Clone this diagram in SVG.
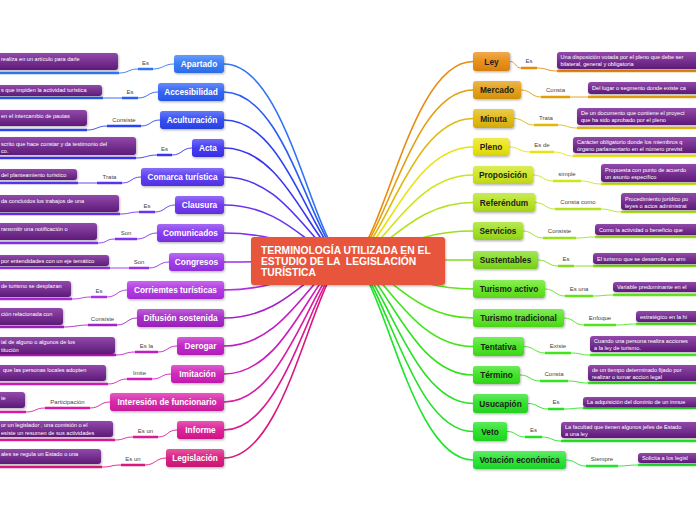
<svg xmlns="http://www.w3.org/2000/svg" width="696" height="520" viewBox="0 0 696 520">
<defs>
<linearGradient id="gloss" x1="0" y1="0" x2="0" y2="1"><stop offset="0" stop-color="#fff" stop-opacity="0.28"/><stop offset="0.5" stop-color="#fff" stop-opacity="0.05"/><stop offset="1" stop-color="#000" stop-opacity="0.08"/></linearGradient>
<linearGradient id="boxg" x1="0" y1="0" x2="0" y2="1"><stop offset="0" stop-color="#9149aa"/><stop offset="1" stop-color="#5e1a78"/></linearGradient>
<filter id="sh" x="-10%" y="-30%" width="130%" height="180%"><feDropShadow dx="0.8" dy="1.2" stdDeviation="0.9" flood-color="#000" flood-opacity="0.3"/></filter>
</defs>
<style>
.n{filter:url(#sh)}
.gl{fill:url(#gloss)}
.nt{font-family:"Liberation Sans",Arial,sans-serif;font-weight:bold;font-size:8.3px;text-anchor:middle;fill:#fff}
.nr{fill:#1e1e1e}
.bx{fill:url(#boxg);filter:url(#sh)}
.bt{font-family:"Liberation Sans",Arial,sans-serif;font-size:5.6px;fill:#fff}
.lb{font-family:"Liberation Sans",Arial,sans-serif;font-size:6px;fill:#444;text-anchor:middle}
.c{fill:none;stroke-width:1.6}
.t{fill:none;stroke-width:0.9}
.u{fill:none;stroke-width:2.4}
</style>
<rect width="696" height="520" fill="#fff"/>
<g id="connectors">
<g class="c">
<path stroke="#2f74f6" d="M224,64 C290,64 315,260 348,260"/>
<path stroke="#2a5cf5" d="M224,92 C290,92 315,260 348,260"/>
<path stroke="#2b44f2" d="M224,120 C290,120 315,260 348,260"/>
<path stroke="#3a33f2" d="M224,148 C290,148 315,260 348,260"/>
<path stroke="#5634f2" d="M224,177 C290,177 315,260 348,260"/>
<path stroke="#6a33f0" d="M224,205 C290,205 315,260 348,260"/>
<path stroke="#8132ee" d="M224,233 C290,233 315,260 348,260"/>
<path stroke="#9a30ea" d="M224,262 C290,262 315,260 348,260"/>
<path stroke="#ae2fe4" d="M224,290 C290,290 315,260 348,260"/>
<path stroke="#a322c6" d="M224,318 C290,318 315,260 348,260"/>
<path stroke="#c11cc6" d="M224,346 C290,346 315,260 348,260"/>
<path stroke="#cf1bb9" d="M224,374 C290,374 315,260 348,260"/>
<path stroke="#d81aa6" d="M224,402 C290,402 315,260 348,260"/>
<path stroke="#dc1992" d="M224,430 C290,430 315,260 348,260"/>
<path stroke="#d8187c" d="M224,458 C290,458 315,260 348,260"/>
<path stroke="#e88a0b" d="M473,61.5 C408,61.5 382,260 348,260"/>
<path stroke="#e39c0a" d="M473,90 C408,90 382,260 348,260"/>
<path stroke="#e0b80c" d="M473,118.5 C408,118.5 382,260 348,260"/>
<path stroke="#e9e30d" d="M473,147 C408,147 382,260 348,260"/>
<path stroke="#cde51a" d="M473,175 C408,175 382,260 348,260"/>
<path stroke="#b4e21c" d="M473,202.5 C408,202.5 382,260 348,260"/>
<path stroke="#9ddf1d" d="M473,231 C408,231 382,260 348,260"/>
<path stroke="#80dc1a" d="M473,260 C408,260 382,260 348,260"/>
<path stroke="#62e51a" d="M473,289 C408,289 382,260 348,260"/>
<path stroke="#52e51b" d="M473,318 C408,318 382,260 348,260"/>
<path stroke="#42e51c" d="M473,346.5 C408,346.5 382,260 348,260"/>
<path stroke="#34e21f" d="M473,375 C408,375 382,260 348,260"/>
<path stroke="#28e024" d="M473,403.5 C408,403.5 382,260 348,260"/>
<path stroke="#22e124" d="M473,431.5 C408,431.5 382,260 348,260"/>
<path stroke="#22e32e" d="M473,460 C408,460 382,260 348,260"/>
</g>
<g class="t">
<path stroke="#2f74f6" d="M174,64 C164,64 163,69 153,69 M138,69 C128,69 129,73 119,73"/>
<path stroke="#2a5cf5" d="M158,92 C148,92 148,98 138,98 M122,98 L103,98"/>
<path stroke="#2b44f2" d="M160,120 C150,120 151,126 141,126 M107,126 C97,126 97,130 87,130"/>
<path stroke="#3a33f2" d="M192,148 C182,148 182,155 172,155 M157,155 C147,155 146,158 136,158"/>
<path stroke="#5634f2" d="M141,177 C131,177 132,183 122,183 M97,183 L78,183"/>
<path stroke="#6a33f0" d="M175,205 C165,205 165,212 155,212 M139,212 C129,212 130,214 120,214"/>
<path stroke="#8132ee" d="M157,233 C147,233 147,239 137,239 M115,239 C105,239 108,243 98,243"/>
<path stroke="#9a30ea" d="M169,262 C159,262 159,268 149,268 M129,268 L110,268"/>
<path stroke="#ae2fe4" d="M127,290 C117,290 117,297 107,297 M91,297 C81,297 82,299 72,299"/>
<path stroke="#a322c6" d="M137,318 C127,318 127,325 117,325 M88,325 C78,325 74,327 64,327"/>
<path stroke="#c11cc6" d="M177,346 C167,346 168,352 158,352 M135,352 C125,352 126,355 116,355"/>
<path stroke="#cf1bb9" d="M171,374 C161,374 162,379 152,379 M127,379 C117,379 118,384 108,384"/>
<path stroke="#d81aa6" d="M110,402 C100,402 100,408 90,408 M45,408 C35,408 36,412 26,412"/>
<path stroke="#dc1992" d="M177,430 C167,430 168,437 158,437 M133,437 C123,437 125,440 115,440"/>
<path stroke="#d8187c" d="M166,458 C156,458 155,465 145,465 M121,465 C111,465 112,467 102,467"/>
<path stroke="#e88a0b" d="M510,61.5 C516,61.5 515,68 521,68 M537,68 C547,68 547,71 557,71"/>
<path stroke="#e39c0a" d="M521,90 C531,90 531,97 541,97 M570,97 L588,97"/>
<path stroke="#e0b80c" d="M514,118.5 C524,118.5 524,125 534,125 M558,125 C568,125 567,128 577,128"/>
<path stroke="#e9e30d" d="M509,147 C519,147 520,152 530,152 M554,152 C564,152 563,156 573,156"/>
<path stroke="#cde51a" d="M533,175 C543,175 543,181 553,181 M581,181 C591,181 591,184 601,184"/>
<path stroke="#b4e21c" d="M535,202.5 C545,202.5 545,209 555,209 M601,209 C611,209 611,212 621,212"/>
<path stroke="#9ddf1d" d="M523,231 C533,231 533,238 543,238 M576,238 C586,238 585,237 595,237"/>
<path stroke="#80dc1a" d="M538,260 C548,260 548,266 558,266 M574,266 L593,266"/>
<path stroke="#62e51a" d="M545,289 C555,289 555,296 565,296 M593,296 C603,296 603,295 613,295"/>
<path stroke="#52e51b" d="M564,318 C574,318 574,325 584,325 M616,325 C626,325 626,324 636,324"/>
<path stroke="#42e51c" d="M524,346.5 C534,346.5 535,353 545,353 M571,353 C581,353 580,355 590,355"/>
<path stroke="#34e21f" d="M520,375 C530,375 530,381 540,381 M568,381 C578,381 578,383 588,383"/>
<path stroke="#28e024" d="M528,403.5 C538,403.5 538,409 548,409 M564,409 C574,409 573,408 583,408"/>
<path stroke="#22e124" d="M507,431.5 C517,431.5 515,437 525,437 M542,437 C552,437 551,441 561,441"/>
<path stroke="#22e32e" d="M566,460 C576,460 576,466 586,466 M618,466 C628,466 628,465 638,465"/>
</g>
<g class="u">
<path stroke="#2f74f6" d="M138,69 H153 M0,73 H119"/>
<path stroke="#2a5cf5" d="M122,98 H138 M0,98 H103"/>
<path stroke="#2b44f2" d="M107,126 H141 M0,130 H87"/>
<path stroke="#3a33f2" d="M157,155 H172 M0,158 H136"/>
<path stroke="#5634f2" d="M97,183 H122 M0,183 H78"/>
<path stroke="#6a33f0" d="M139,212 H155 M0,214 H120"/>
<path stroke="#8132ee" d="M115,239 H137 M0,243 H98"/>
<path stroke="#9a30ea" d="M129,268 H149 M0,268 H110"/>
<path stroke="#ae2fe4" d="M91,297 H107 M0,299 H72"/>
<path stroke="#a322c6" d="M88,325 H117 M0,327 H64"/>
<path stroke="#c11cc6" d="M135,352 H158 M0,355 H116"/>
<path stroke="#cf1bb9" d="M127,379 H152 M0,384 H108"/>
<path stroke="#d81aa6" d="M45,408 H90 M0,412 H26"/>
<path stroke="#dc1992" d="M133,437 H158 M0,440 H115"/>
<path stroke="#d8187c" d="M121,465 H145 M0,467 H102"/>
<path stroke="#e88a0b" d="M521,68 H537 M557,71 H696"/>
<path stroke="#e39c0a" d="M541,97 H570 M588,97 H696"/>
<path stroke="#e0b80c" d="M534,125 H558 M577,128 H696"/>
<path stroke="#e9e30d" d="M530,152 H554 M573,156 H696"/>
<path stroke="#cde51a" d="M553,181 H581 M601,184 H696"/>
<path stroke="#b4e21c" d="M555,209 H601 M621,212 H696"/>
<path stroke="#9ddf1d" d="M543,238 H576 M595,237 H696"/>
<path stroke="#80dc1a" d="M558,266 H574 M593,266 H696"/>
<path stroke="#62e51a" d="M565,296 H593 M613,295 H696"/>
<path stroke="#52e51b" d="M584,325 H616 M636,324 H696"/>
<path stroke="#42e51c" d="M545,353 H571 M590,355 H696"/>
<path stroke="#34e21f" d="M540,381 H568 M588,383 H696"/>
<path stroke="#28e024" d="M548,409 H564 M583,408 H696"/>
<path stroke="#22e124" d="M525,437 H542 M561,441 H696"/>
<path stroke="#22e32e" d="M586,466 H618 M638,465 H696"/>
</g>
<g id="labels">
<text class="lb" x="145.5" y="65">Es</text>
<text class="lb" x="130" y="94">Es</text>
<text class="lb" x="124" y="122">Consiste</text>
<text class="lb" x="164.5" y="151">Es</text>
<text class="lb" x="109.5" y="179">Trata</text>
<text class="lb" x="147" y="208">Es</text>
<text class="lb" x="126" y="235">Son</text>
<text class="lb" x="139" y="264">Son</text>
<text class="lb" x="99" y="293">Es</text>
<text class="lb" x="102.5" y="321">Consiste</text>
<text class="lb" x="146.5" y="348">Es la</text>
<text class="lb" x="139.5" y="375">Imite</text>
<text class="lb" x="67.5" y="404">Participación</text>
<text class="lb" x="145.5" y="433">Es un</text>
<text class="lb" x="133" y="461">Es un</text>
<text class="lb" x="529" y="63">Es</text>
<text class="lb" x="555.5" y="92">Consta</text>
<text class="lb" x="546" y="120">Trata</text>
<text class="lb" x="542" y="147">Es de</text>
<text class="lb" x="567" y="176">simple</text>
<text class="lb" x="578" y="204">Consta como</text>
<text class="lb" x="559.5" y="233">Consiste</text>
<text class="lb" x="566" y="261">Es</text>
<text class="lb" x="579" y="291">Es una</text>
<text class="lb" x="600" y="320">Enfoque</text>
<text class="lb" x="558" y="348">Existe</text>
<text class="lb" x="554" y="376">Consta</text>
<text class="lb" x="556" y="404">Es</text>
<text class="lb" x="533.5" y="432">Es</text>
<text class="lb" x="602" y="461">Siempre</text>
</g>
</g>
<g id="center">
<rect x="251" y="237" width="194" height="48" rx="3" fill="#e8553d" class="n"/>
<g font-family="Liberation Sans, Arial, sans-serif" font-weight="bold" font-size="10.3" fill="#fff">
<text x="261" y="254">TERMINOLOGÍA UTILIZADA EN EL</text>
<text x="261" y="265" style="white-space:pre">ESTUDIO DE LA  LEGISLACIÓN</text>
<text x="261" y="276">TURÍSTICA</text>
</g>
</g>
<g id="n-apartado"><rect class="n" x="174" y="55" width="50" height="18" rx="3" fill="#2f74f6"/><rect class="gl" x="174" y="55" width="50" height="18" rx="3"/><text class="nt" x="199" y="67">Apartado</text></g>
<g id="n-accesibilidad"><rect class="n" x="158" y="83" width="66" height="18" rx="3" fill="#2a5cf5"/><rect class="gl" x="158" y="83" width="66" height="18" rx="3"/><text class="nt" x="191" y="95">Accesibilidad</text></g>
<g id="n-aculturacion"><rect class="n" x="160" y="111" width="64" height="18" rx="3" fill="#2b44f2"/><rect class="gl" x="160" y="111" width="64" height="18" rx="3"/><text class="nt" x="192" y="123">Aculturación</text></g>
<g id="n-acta"><rect class="n" x="192" y="139" width="32" height="18" rx="3" fill="#3a33f2"/><rect class="gl" x="192" y="139" width="32" height="18" rx="3"/><text class="nt" x="208" y="151">Acta</text></g>
<g id="n-comarca"><rect class="n" x="141" y="168" width="83" height="18" rx="3" fill="#5634f2"/><rect class="gl" x="141" y="168" width="83" height="18" rx="3"/><text class="nt" x="182.5" y="180">Comarca turística</text></g>
<g id="n-clausura"><rect class="n" x="175" y="196" width="49" height="18" rx="3" fill="#6a33f0"/><rect class="gl" x="175" y="196" width="49" height="18" rx="3"/><text class="nt" x="199.5" y="208">Clausura</text></g>
<g id="n-comunicados"><rect class="n" x="157" y="224" width="67" height="18" rx="3" fill="#8132ee"/><rect class="gl" x="157" y="224" width="67" height="18" rx="3"/><text class="nt" x="190.5" y="236">Comunicados</text></g>
<g id="n-congresos"><rect class="n" x="169" y="253" width="55" height="18" rx="3" fill="#9a30ea"/><rect class="gl" x="169" y="253" width="55" height="18" rx="3"/><text class="nt" x="196.5" y="265">Congresos</text></g>
<g id="n-corrientes"><rect class="n" x="127" y="281" width="97" height="18" rx="3" fill="#ae2fe4"/><rect class="gl" x="127" y="281" width="97" height="18" rx="3"/><text class="nt" x="175.5" y="293">Corriemtes turísticas</text></g>
<g id="n-difusion"><rect class="n" x="137" y="309" width="87" height="18" rx="3" fill="#a322c6"/><rect class="gl" x="137" y="309" width="87" height="18" rx="3"/><text class="nt" x="180.5" y="321">Difusión sostenida</text></g>
<g id="n-derogar"><rect class="n" x="177" y="337" width="47" height="18" rx="3" fill="#c11cc6"/><rect class="gl" x="177" y="337" width="47" height="18" rx="3"/><text class="nt" x="200.5" y="349">Derogar</text></g>
<g id="n-imitacion"><rect class="n" x="171" y="365" width="53" height="18" rx="3" fill="#cf1bb9"/><rect class="gl" x="171" y="365" width="53" height="18" rx="3"/><text class="nt" x="197.5" y="377">Imitación</text></g>
<g id="n-interesion"><rect class="n" x="110" y="393" width="114" height="18" rx="3" fill="#d81aa6"/><rect class="gl" x="110" y="393" width="114" height="18" rx="3"/><text class="nt" x="167" y="405">Interesión de funcionario</text></g>
<g id="n-informe"><rect class="n" x="177" y="421" width="47" height="18" rx="3" fill="#dc1992"/><rect class="gl" x="177" y="421" width="47" height="18" rx="3"/><text class="nt" x="200.5" y="433">Informe</text></g>
<g id="n-legislacion"><rect class="n" x="166" y="449" width="58" height="18" rx="3" fill="#d8187c"/><rect class="gl" x="166" y="449" width="58" height="18" rx="3"/><text class="nt" x="195" y="461">Legislación</text></g>
<g id="n-ley"><rect class="n" x="473" y="52" width="37" height="19" rx="3" fill="#e88a0b"/><rect class="gl" x="473" y="52" width="37" height="19" rx="3"/><text class="nt nr" x="491.5" y="64.5">Ley</text></g>
<g id="n-mercado"><rect class="n" x="473" y="81" width="48" height="18" rx="3" fill="#e39c0a"/><rect class="gl" x="473" y="81" width="48" height="18" rx="3"/><text class="nt nr" x="497" y="93">Mercado</text></g>
<g id="n-minuta"><rect class="n" x="473" y="109" width="41" height="19" rx="3" fill="#e0b80c"/><rect class="gl" x="473" y="109" width="41" height="19" rx="3"/><text class="nt nr" x="493.5" y="121.5">Minuta</text></g>
<g id="n-pleno"><rect class="n" x="473" y="138" width="36" height="18" rx="3" fill="#e9e30d"/><rect class="gl" x="473" y="138" width="36" height="18" rx="3"/><text class="nt nr" x="491" y="150">Pleno</text></g>
<g id="n-proposicion"><rect class="n" x="473" y="166" width="60" height="18" rx="3" fill="#cde51a"/><rect class="gl" x="473" y="166" width="60" height="18" rx="3"/><text class="nt nr" x="503" y="178">Proposición</text></g>
<g id="n-referendum"><rect class="n" x="473" y="193" width="62" height="19" rx="3" fill="#b4e21c"/><rect class="gl" x="473" y="193" width="62" height="19" rx="3"/><text class="nt nr" x="504" y="205.5">Referéndum</text></g>
<g id="n-servicios"><rect class="n" x="473" y="222" width="50" height="18" rx="3" fill="#9ddf1d"/><rect class="gl" x="473" y="222" width="50" height="18" rx="3"/><text class="nt nr" x="498" y="234">Servicios</text></g>
<g id="n-sustentables"><rect class="n" x="473" y="251" width="65" height="18" rx="3" fill="#80dc1a"/><rect class="gl" x="473" y="251" width="65" height="18" rx="3"/><text class="nt nr" x="505.5" y="263">Sustentables</text></g>
<g id="n-turismo-activo"><rect class="n" x="473" y="280" width="72" height="18" rx="3" fill="#62e51a"/><rect class="gl" x="473" y="280" width="72" height="18" rx="3"/><text class="nt nr" x="509" y="292">Turismo activo</text></g>
<g id="n-turismo-tradicional"><rect class="n" x="473" y="309" width="91" height="18" rx="3" fill="#52e51b"/><rect class="gl" x="473" y="309" width="91" height="18" rx="3"/><text class="nt nr" x="518.5" y="321">Turismo tradicional</text></g>
<g id="n-tentativa"><rect class="n" x="473" y="337" width="51" height="19" rx="3" fill="#42e51c"/><rect class="gl" x="473" y="337" width="51" height="19" rx="3"/><text class="nt nr" x="498.5" y="349.5">Tentativa</text></g>
<g id="n-termino"><rect class="n" x="473" y="366" width="47" height="18" rx="3" fill="#34e21f"/><rect class="gl" x="473" y="366" width="47" height="18" rx="3"/><text class="nt nr" x="496.5" y="378">Término</text></g>
<g id="n-usucapion"><rect class="n" x="473" y="394" width="55" height="19" rx="3" fill="#28e024"/><rect class="gl" x="473" y="394" width="55" height="19" rx="3"/><text class="nt nr" x="500.5" y="406.5">Usucapión</text></g>
<g id="n-veto"><rect class="n" x="473" y="422" width="34" height="19" rx="3" fill="#22e124"/><rect class="gl" x="473" y="422" width="34" height="19" rx="3"/><text class="nt nr" x="490" y="434.5">Veto</text></g>
<g id="n-votacion"><rect class="n" x="473" y="451" width="93" height="18" rx="3" fill="#22e32e"/><rect class="gl" x="473" y="451" width="93" height="18" rx="3"/><text class="nt nr" x="519.5" y="463">Votación económica</text></g>
<g id="t-apartado"><rect class="bx" x="-6" y="53" width="124" height="17" rx="3"/><text class="bt" x="1" y="61">realiza en un artículo para darle</text></g>
<g id="t-accesibilidad"><rect class="bx" x="-6" y="85" width="108" height="11" rx="3"/><text class="bt" x="1" y="92">s que impiden la actividad turística</text></g>
<g id="t-aculturacion"><rect class="bx" x="-6" y="110" width="93" height="16" rx="3"/><text class="bt" x="1" y="118">en el intercambio de pautas</text></g>
<g id="t-acta"><rect class="bx" x="-6" y="137" width="142" height="18" rx="3"/><text class="bt" x="1" y="146">scrito que hace constar y da testimonio del</text><text class="bt" x="1" y="153">co.</text></g>
<g id="t-comarca"><rect class="bx" x="-6" y="169" width="83" height="11" rx="3"/><text class="bt" x="1" y="177">del planteamiento turístico</text></g>
<g id="t-clausura"><rect class="bx" x="-6" y="195" width="125" height="17" rx="3"/><text class="bt" x="1" y="203">da concluidos los trabajos de una</text></g>
<g id="t-comunicados"><rect class="bx" x="-6" y="223" width="103" height="17" rx="3"/><text class="bt" x="1" y="231">ransmitir una notificación o</text></g>
<g id="t-congresos"><rect class="bx" x="-6" y="255" width="115" height="11" rx="3"/><text class="bt" x="1" y="263">por entendidades con un eje temático</text></g>
<g id="t-corrientes"><rect class="bx" x="-6" y="281" width="77" height="16" rx="3"/><text class="bt" x="1" y="288">de turismo se desplazan</text></g>
<g id="t-difusion"><rect class="bx" x="-6" y="308" width="69" height="17" rx="3"/><text class="bt" x="1" y="316">ción relacionada con</text></g>
<g id="t-derogar"><rect class="bx" x="-6" y="337" width="121" height="17" rx="3"/><text class="bt" x="1" y="344">ial de alguno o algunos de los</text><text class="bt" x="1" y="352">titución</text></g>
<g id="t-imitacion"><rect class="bx" x="-6" y="365" width="112" height="16" rx="3"/><text class="bt" x="3" y="372">que las personas locales adopten</text></g>
<g id="t-interesion"><rect class="bx" x="-6" y="392" width="31" height="16" rx="3"/><text class="bt" x="1" y="400">te</text></g>
<g id="t-informe"><rect class="bx" x="-6" y="421" width="119" height="16" rx="3"/><text class="bt" x="1" y="427">or un legislador , una comisión o el</text><text class="bt" x="1" y="435">esiste un resumen de sus actividades</text></g>
<g id="t-legislacion"><rect class="bx" x="-6" y="449" width="107" height="15" rx="3"/><text class="bt" x="1" y="456">ales se regula un Estado o una</text></g>
<g id="t-ley"><rect class="bx" x="557" y="52" width="160" height="17" rx="3"/><text class="bt" x="560.5" y="59">Una disposición votada por el pleno que debe ser</text><text class="bt" x="560.5" y="66">bilateral, general y obligatoria</text></g>
<g id="t-mercado"><rect class="bx" x="588" y="82" width="130" height="12" rx="3"/><text class="bt" x="592" y="90">Del lugar o segmento donde existe ca</text></g>
<g id="t-minuta"><rect class="bx" x="577" y="108" width="140" height="17" rx="3"/><text class="bt" x="581" y="115">De un documento que contiene el proyect</text><text class="bt" x="581" y="122">que ha sido aprobado por el pleno</text></g>
<g id="t-pleno"><rect class="bx" x="573" y="137" width="140" height="16" rx="3"/><text class="bt" x="577" y="144">Carácter obligatorio donde los miembros q</text><text class="bt" x="577" y="151">órgano parlamentario en el número previst</text></g>
<g id="t-proposicion"><rect class="bx" x="601" y="164" width="110" height="18" rx="3"/><text class="bt" x="605" y="172">Propuesta con punto de acuerdo</text><text class="bt" x="605" y="179">un asunto específico</text></g>
<g id="t-referendum"><rect class="bx" x="621" y="193" width="100" height="17" rx="3"/><text class="bt" x="625" y="201">Procedimiento jurídico po</text><text class="bt" x="625" y="208">leyes o actos administrat</text></g>
<g id="t-servicios"><rect class="bx" x="595" y="224" width="120" height="11" rx="3"/><text class="bt" x="599" y="231.5">Como la actividad o beneficio que</text></g>
<g id="t-sustentables"><rect class="bx" x="593" y="253" width="120" height="11" rx="3"/><text class="bt" x="597" y="260.5">El turismo que se desarrolla en arm</text></g>
<g id="t-turismo-activo"><rect class="bx" x="613" y="282" width="100" height="10" rx="3"/><text class="bt" x="617" y="289">Variable predominante en el</text></g>
<g id="t-turismo-tradicional"><rect class="bx" x="636" y="311" width="80" height="11" rx="3"/><text class="bt" x="640" y="318.5">estratégico en la hi</text></g>
<g id="t-tentativa"><rect class="bx" x="590" y="336" width="120" height="16" rx="3"/><text class="bt" x="594" y="343">Cuando una persona realiza acciones</text><text class="bt" x="594" y="350">a la ley de turismo.</text></g>
<g id="t-termino"><rect class="bx" x="588" y="365" width="120" height="16" rx="3"/><text class="bt" x="592" y="372">de un tiempo determinado fijado por</text><text class="bt" x="592" y="379">realizar o tomar accion legal</text></g>
<g id="t-usucapion"><rect class="bx" x="583" y="397" width="130" height="10" rx="3"/><text class="bt" x="587" y="404">La adquisición del dominio de un inmue</text></g>
<g id="t-veto"><rect class="bx" x="561" y="422" width="150" height="16" rx="3"/><text class="bt" x="565" y="429">La facultad que tienen algunos jefes de Estado</text><text class="bt" x="565" y="436">a una ley</text></g>
<g id="t-votacion"><rect class="bx" x="638" y="453" width="80" height="10" rx="3"/><text class="bt" x="642" y="460">Solicita a los legisl</text></g>
</svg>
